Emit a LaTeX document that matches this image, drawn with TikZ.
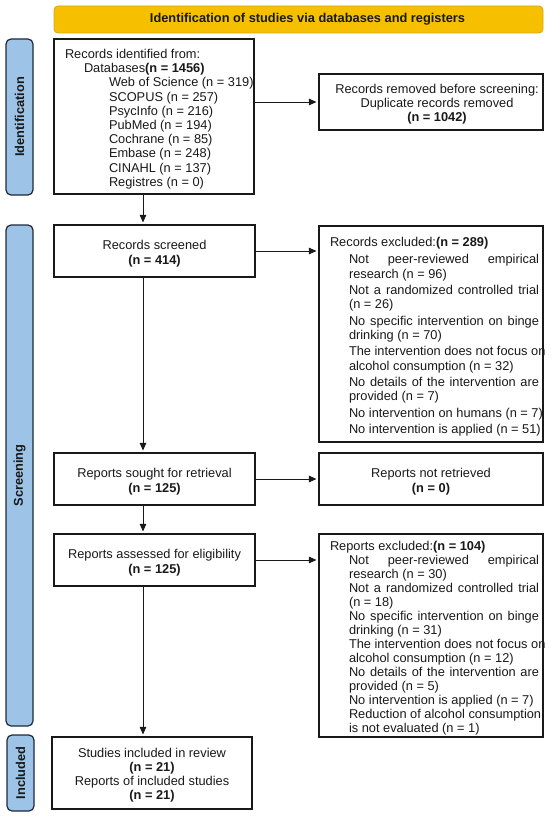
\documentclass[tikz,border=0pt]{standalone}
\usepackage{fontspec}
\setmainfont{Liberation Sans}
\usetikzlibrary{arrows.meta}
\definecolor{bannerfill}{RGB}{246,192,0}
\definecolor{bannerdraw}{RGB}{215,165,20}
\definecolor{barfill}{RGB}{157,195,230}
\definecolor{bardraw}{RGB}{30,40,60}
\definecolor{ink}{RGB}{25,25,25}
\newcommand{\nsp}{\spaceskip=0pt\xspaceskip=0pt\relax}
\newcommand{\tstrut}{\rule{0pt}{14.5pt}}
\newcommand{\jline}[1]{\hspace*{30pt}\makebox[190pt][s]{\spaceskip=.278em plus 4em\relax #1}}
\newcommand{\hdline}[1]{\hspace*{11pt}\mbox{\nsp #1}}
\newcommand{\itline}[1]{\hspace*{30pt}\mbox{\nsp #1}}
\newcommand{\dbline}[1]{\hspace*{55pt}\mbox{\nsp #1}}
\begin{document}
\begin{tikzpicture}[x=1pt,y=-1pt,
  box/.style={draw=ink,line width=1.1pt,fill=white,inner sep=0pt,text=ink,
    font=\fontsize{12.8}{14.2}\selectfont},
  cbox/.style={box,align=center,minimum width=201pt,minimum height=52pt},
  lbox/.style={box,align=left,text width=#1},
  bar/.style={draw=bardraw,line width=1.2pt,fill=barfill,rounded corners=5pt,
    inner sep=0pt,rotate=90,minimum height=27pt,text=ink,
    font=\fontsize{12.8}{14}\selectfont\bfseries},
  banner/.style={draw=bannerdraw,line width=0.8pt,fill=bannerfill,rounded corners=4pt,
    minimum width=489pt,minimum height=27pt,inner sep=0pt,text=ink,
    font=\fontsize{12.8}{14}\selectfont\bfseries},
  arr/.style={draw=ink,line width=0.9pt,-{Triangle[length=7.5pt,width=6.5pt]},shorten >=2pt}
]
\useasboundingbox (0,0) rectangle (550,816);

\node[banner] (banner) at (298.5,19.5) {\hspace*{18pt}Identification of studies via databases and registers};

\node[bar,minimum width=156pt] (idbar) at (19.5,117) {Identification};
\node[bar,minimum width=501pt] (scbar) at (19.5,475.5) {Screening};
\node[bar,minimum width=76pt] (inbar) at (20.5,773) {Included};

\node[lbox=200pt,minimum height=155pt] (ident) at (154,116.5) {%
\tstrut\hdline{Records identified from:}\\
\itline{Databases\textbf{(n = 1456)}}\\
\dbline{Web of Science (n = 319)}\\
\dbline{SCOPUS (n = 257)}\\
\dbline{PsycInfo (n = 216)}\\
\dbline{PubMed (n = 194)}\\
\dbline{Cochrane (n = 85)}\\
\dbline{Embase (n = 248)}\\
\dbline{CINAHL (n = 137)}\\
\dbline{Registres (n = 0)}};

\node[box,align=center,minimum width=224pt,minimum height=56pt,
  font=\fontsize{12.8}{14}\selectfont] (removed) at (431,102) {%
\tstrut\hspace*{12pt}Records removed before screening:\\
\hspace*{12pt}Duplicate records removed\\
\hspace*{12pt}\textbf{(n = 1042)}};

\node[cbox] (screened) at (154.5,251) {\tstrut Records screened\\[0.8pt]\textbf{(n = 414)}};

\node[lbox=224pt,minimum height=216pt,font=\fontsize{12.8}{14.5}\selectfont] (excl1) at (431,334) {%
\tstrut\hdline{Records excluded:\textbf{(n = 289)}}\\[2.7pt]
\jline{Not peer-reviewed empirical}\\
\itline{research (n = 96)}\\[1.7pt]
\jline{Not a randomized controlled trial}\\
\itline{(n = 26)}\\[1.7pt]
\jline{No specific intervention on binge}\\
\itline{drinking (n = 70)}\\[1.7pt]
\jline{The intervention does not focus on}\\
\itline{alcohol consumption (n = 32)}\\[1.7pt]
\jline{No details of the intervention are}\\
\itline{provided (n = 7)}\\[1.7pt]
\itline{No intervention on humans (n = 7)}\\[1.7pt]
\itline{No intervention is applied (n = 51)}};

\node[cbox] (sought) at (154.5,479) {\tstrut Reports sought for retrieval\\\textbf{(n = 125)}};
\node[cbox,minimum width=224pt] (notret) at (431,479) {\tstrut Reports not retrieved\\\textbf{(n = 0)}};

\node[cbox] (assessed) at (154.5,560) {\tstrut Reports assessed for eligibility\\\textbf{(n = 125)}};

\node[lbox=224pt,minimum height=203pt,font=\fontsize{12.8}{14}\selectfont] (excl2) at (431,635.5) {%
\tstrut\hdline{Reports excluded:\textbf{(n = 104)}}\\[0.8pt]
\jline{Not peer-reviewed empirical}\\
\itline{research (n = 30)}\\
\jline{Not a randomized controlled trial}\\
\itline{(n = 18)}\\
\jline{No specific intervention on binge}\\
\itline{drinking (n = 31)}\\
\jline{The intervention does not focus on}\\
\itline{alcohol consumption (n = 12)}\\
\jline{No details of the intervention are}\\
\itline{provided (n = 5)}\\
\itline{No intervention is applied (n = 7)}\\
\jline{Reduction of alcohol consumption}\\
\itline{is not evaluated (n = 1)}};

\node[box,align=center,minimum width=200pt,minimum height=72pt,
  font=\fontsize{12.8}{14}\selectfont] (included) at (152,773) {%
\tstrut Studies included in review\\
\textbf{(n = 21)}\\
Reports of included studies\\
\textbf{(n = 21)}};

\coordinate (ax) at (143,0);
\draw[arr] (ident.east |- removed.west) -- (removed.west);
\draw[arr] (ident.south -| ax) -- (screened.north -| ax);
\draw[arr] (screened.east) -- (screened.east -| excl1.west);
\draw[arr] (screened.south -| ax) -- (sought.north -| ax);
\draw[arr] (sought.east) -- (notret.west);
\draw[arr] (sought.south -| ax) -- (assessed.north -| ax);
\draw[arr] (assessed.east) -- (assessed.east -| excl2.west);
\draw[arr] (assessed.south -| ax) -- (included.north -| ax);
\end{tikzpicture}
\end{document}
